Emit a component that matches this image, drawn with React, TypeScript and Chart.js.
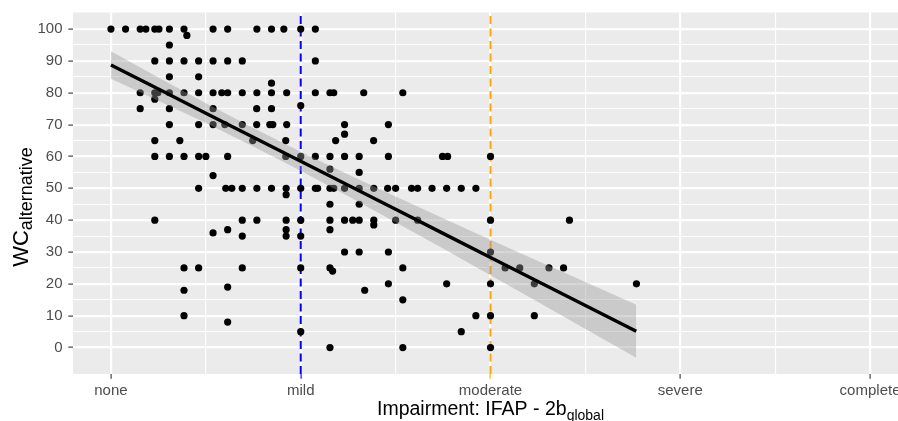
import { useEffect, useRef } from 'react';
import { Chart, registerables } from 'chart.js';

Chart.register(...registerables);

// ---- axis definitions ----
const xCategories = ['none', 'mild', 'moderate', 'severe', 'complete'];
const xTickValues = [0, 0.5, 1, 1.5, 2, 2.5, 3, 3.5, 4];
const yTickValues = [0, 5, 10, 15, 20, 25, 30, 35, 40, 45, 50, 55, 60, 65, 70, 75, 80, 85, 90, 95, 100];
const xMin = -0.2;
const xMax = 4.2;
const yMin = -8.3;
const yMax = 105.2;

// ---- observed points (impairment score, WC alternative) ----
const pointX = [
  // 100
  0, 0.077, 0.154, 0.184, 0.231, 0.253, 0.308, 0.385, 0.538, 0.615, 0.769, 0.846, 0.911, 1.0, 1.077,
  0.4,
  // 95, 90
  0.308,
  0.231, 0.308, 0.385, 0.462, 0.538, 0.615, 0.692, 1.077,
  // 85, 83
  0.308, 0.462,
  0.846,
  // 80
  0.154, 0.231, 0.247, 0.308, 0.385, 0.462, 0.538, 0.584, 0.615, 0.692, 0.769, 0.846, 0.926, 1.077, 1.154, 1.174, 1.332, 1.538,
  0.231, 1.0,
  // 75
  0.154, 0.308, 0.538, 0.768, 0.846,
  // 70
  0.308, 0.462, 0.538, 0.6, 0.692, 0.768, 0.837, 0.853, 0.926, 1.231, 1.462,
  1.231,
  // 65
  0.231, 0.363, 0.747, 0.921, 1.184, 1.384,
  // 60
  0.231, 0.308, 0.385, 0.462, 0.5, 0.615, 0.921, 1.0, 1.077, 1.154, 1.231, 1.308, 1.462, 1.747, 1.774, 2.0,
  1.154, 1.308, 0.538,
  // 50
  0.462, 0.605, 0.637, 0.692, 0.769, 0.846, 0.923, 1.0, 1.077, 1.089, 1.154, 1.174, 1.231, 1.308, 1.385, 1.458, 1.5, 1.584, 1.616, 1.692, 1.769, 1.846, 1.923,
  0.923,
  // 45
  1.154, 1.308,
  // 40
  0.231, 0.692, 0.769, 0.923, 1.0, 1.154, 1.231, 1.274, 1.308, 1.385, 1.5, 1.616, 2.0, 2.416,
  1.385,
  0.538, 0.615, 0.692, 0.923, 0.923, 1.0, 1.154,
  // 30
  1.231, 1.308, 1.462, 2.0,
  // 25
  0.385, 0.462, 0.692, 1.0, 1.154, 1.538, 2.077, 2.154, 2.308, 2.385,
  1.168,
  // 20
  1.462, 1.769, 2.0, 2.231, 2.769,
  0.385, 0.615, 1.337,
  1.538,
  // 10
  0.385, 1.923, 2.0, 2.231,
  0.615,
  // 5
  1.0, 1.846,
  // 0
  1.154, 1.538, 2.0,
];

const pointY = [
  100, 100, 100, 100, 100, 100, 100, 100, 100, 100, 100, 100, 100, 100, 100,
  98,
  95,
  90, 90, 90, 90, 90, 90, 90, 90,
  85, 85,
  83,
  80, 80, 80, 80, 80, 80, 80, 80, 80, 80, 80, 80, 80, 80, 80, 80, 80, 80,
  78, 76,
  75, 75, 75, 75, 75,
  70, 70, 70, 70, 70, 70, 70, 70, 70, 70, 70,
  67,
  65, 65, 65, 65, 65, 65,
  60, 60, 60, 60, 60, 60, 60, 60, 60, 60, 60, 60, 60, 60, 60, 60,
  56, 55, 54,
  50, 50, 50, 50, 50, 50, 50, 50, 50, 50, 50, 50, 50, 50, 50, 50, 50, 50, 50, 50, 50, 50, 50,
  48,
  45, 45,
  40, 40, 40, 40, 40, 40, 40, 40, 40, 40, 40, 40, 40, 40,
  38.5,
  36, 37, 35, 37, 35, 35, 37,
  30, 30, 30, 30,
  25, 25, 25, 25, 25, 25, 25, 25, 25, 25,
  24,
  20, 20, 20, 20, 20,
  18, 19, 18,
  15,
  10, 10, 10, 10,
  8,
  5, 5,
  0, 0, 0,
];

// ---- linear fit with 95% confidence band ----
const fitX = [0, 0.25, 0.5, 0.75, 1.0, 1.25, 1.5, 1.75, 2.0, 2.25, 2.5, 2.768];
const fitY = [88.7, 81.15, 73.6, 66.05, 58.5, 50.95, 43.4, 35.85, 28.3, 20.75, 13.2, 5.11];
const fitLow = [84.4, 77.52, 70.47, 63.14, 55.5, 47.54, 39.38, 31.09, 22.72, 14.3, 5.85, -3.23];
const fitHigh = [93.0, 84.78, 76.73, 68.96, 61.5, 54.36, 47.42, 40.61, 33.88, 27.2, 20.55, 13.45];

// ---- reference lines ----
const refLineX = [1, 2];
const refLineColors = ['#0000FF', '#FFA500'];

const FONT = '"Liberation Sans", Arial, Helvetica, sans-serif';
const CANVAS_W = 940;
const CANVAS_H = 421;

const panelPlugin = {
  id: 'panelBg',
  beforeDraw(chart: any) {
    const { ctx, chartArea: a } = chart;
    ctx.save();
    ctx.fillStyle = '#EBEBEB';
    ctx.fillRect(a.left, a.top, a.right - a.left, a.bottom - a.top);
    ctx.restore();
  },
};

function drawWithSub(ctx: CanvasRenderingContext2D, main: string, sub: string, mainSize: number, subSize: number, shift: number) {
  ctx.font = `${mainSize}px ${FONT}`;
  const w1 = ctx.measureText(main).width;
  ctx.font = `${subSize}px ${FONT}`;
  const w2 = ctx.measureText(sub).width;
  const start = -(w1 + w2) / 2;
  ctx.font = `${mainSize}px ${FONT}`;
  ctx.fillText(main, start, 0);
  ctx.font = `${subSize}px ${FONT}`;
  ctx.fillText(sub, start + w1, shift);
}

const titlePlugin = {
  id: 'axisTitles',
  afterDraw(chart: any) {
    const { ctx, chartArea: a } = chart;
    ctx.save();
    ctx.fillStyle = '#000000';
    ctx.textAlign = 'left';
    ctx.textBaseline = 'alphabetic';
    // x title
    ctx.save();
    ctx.translate((a.left + a.right) / 2, 415);
    drawWithSub(ctx, 'Impairment: IFAP - 2b', 'global', 19.5, 14, 4.5);
    ctx.restore();
    // y title
    ctx.save();
    ctx.translate(28, 207);
    ctx.rotate(-Math.PI / 2);
    drawWithSub(ctx, 'WC', 'alternative', 22, 18, 4);
    ctx.restore();
    ctx.restore();
  },
};

export default function App() {
  const canvasRef = useRef<HTMLCanvasElement | null>(null);

  useEffect(() => {
    const canvas = canvasRef.current;
    if (!canvas) return;

    const points = pointX.map((x, i) => ({ x, y: pointY[i] }));
    const fit = fitX.map((x, i) => ({ x, y: fitY[i] }));
    const low = fitX.map((x, i) => ({ x, y: fitLow[i] }));
    const high = fitX.map((x, i) => ({ x, y: fitHigh[i] }));

    const refSets = refLineX.map((x, i) => ({
      label: 'ref' + i,
      data: [{ x, y: yMin }, { x, y: yMax }],
      showLine: true,
      borderColor: refLineColors[i],
      borderWidth: 2,
      borderDash: [8, 4.5],
      pointRadius: 0,
      fill: false,
      order: 3,
    }));

    const chart = new Chart(canvas, {
      type: 'scatter',
      data: {
        datasets: [
          {
            label: 'fit',
            data: fit,
            showLine: true,
            borderColor: '#000000',
            borderWidth: 3.4,
            pointRadius: 0,
            fill: false,
            order: 0,
          },
          {
            label: 'high',
            data: high,
            showLine: true,
            borderColor: 'rgba(0,0,0,0)',
            borderWidth: 1,
            pointRadius: 0,
            backgroundColor: 'rgba(153,153,153,0.4)',
            fill: '+1',
            order: 1,
          },
          {
            label: 'low',
            data: low,
            showLine: true,
            borderColor: 'rgba(0,0,0,0)',
            borderWidth: 1,
            pointRadius: 0,
            fill: false,
            order: 1,
          },
          {
            label: 'points',
            data: points,
            pointRadius: 3.6,
            pointBackgroundColor: '#000000',
            pointBorderColor: '#000000',
            pointBorderWidth: 0,
            order: 2,
          },
          ...refSets,
        ] as any,
      },
      options: {
        responsive: false,
        animation: false,
        devicePixelRatio: 1,
        events: [],
        layout: { padding: { left: 0, top: 12.5, right: CANVAS_W - 908, bottom: 0 } },
        plugins: {
          legend: { display: false },
          tooltip: { enabled: false },
          title: { display: false },
        },
        scales: {
          x: {
            type: 'linear',
            min: xMin,
            max: xMax,
            bounds: 'data',
            afterBuildTicks: (s: any) => {
              s.ticks = xTickValues.map((v) => ({ value: v }));
            },
            afterFit: (s: any) => {
              s.height = 47;
              s.paddingLeft = 0;
              s.paddingRight = 0;
            },
            ticks: {
              autoSkip: false,
              maxRotation: 0,
              minRotation: 0,
              color: '#4D4D4D',
              font: { family: FONT, size: 15 },
              padding: 3.5,
              callback: (v: any) => (Number.isInteger(v) ? xCategories[v] : ''),
            },
            grid: {
              color: '#FFFFFF',
              lineWidth: (c: any) => (Number.isInteger(c.tick?.value) ? 2.2 : 1.1),
              drawTicks: true,
              tickLength: 4.7,
              tickWidth: 1.1,
              tickColor: (c: any) => {
                const v = c.tick?.value;
                if (!Number.isInteger(v)) return 'rgba(0,0,0,0)';
                const k = refLineX.indexOf(v);
                return k >= 0 ? refLineColors[k] : '#333333';
              },
            },
            border: { display: false },
          },
          y: {
            type: 'linear',
            min: yMin,
            max: yMax,
            bounds: 'data',
            afterBuildTicks: (s: any) => {
              s.ticks = yTickValues.map((v) => ({ value: v }));
            },
            afterFit: (s: any) => {
              s.width = 73;
              s.paddingTop = 0;
              s.paddingBottom = 0;
            },
            ticks: {
              autoSkip: false,
              color: '#4D4D4D',
              font: { family: FONT, size: 15 },
              padding: 5.8,
              callback: (v: any) => (v % 10 === 0 ? String(v) : ''),
            },
            grid: {
              color: '#FFFFFF',
              lineWidth: (c: any) => (c.tick && c.tick.value % 10 === 0 ? 2.2 : 1.1),
              drawTicks: true,
              tickLength: 4.7,
              tickWidth: 1.1,
              tickColor: (c: any) => (c.tick && c.tick.value % 10 === 0 ? '#333333' : 'rgba(0,0,0,0)'),
            },
            border: { display: false },
          },
        },
      } as any,
      plugins: [panelPlugin, titlePlugin],
    });

    return () => {
      chart.destroy();
    };
  }, []);

  return (
    <div
      style={{
        position: 'fixed',
        left: 0,
        top: 0,
        width: 898,
        height: 421,
        overflow: 'hidden',
        background: '#FFFFFF',
      }}
    >
      <canvas
        ref={canvasRef}
        width={CANVAS_W}
        height={CANVAS_H}
        style={{ display: 'block', width: CANVAS_W, height: CANVAS_H }}
      />
    </div>
  );
}
